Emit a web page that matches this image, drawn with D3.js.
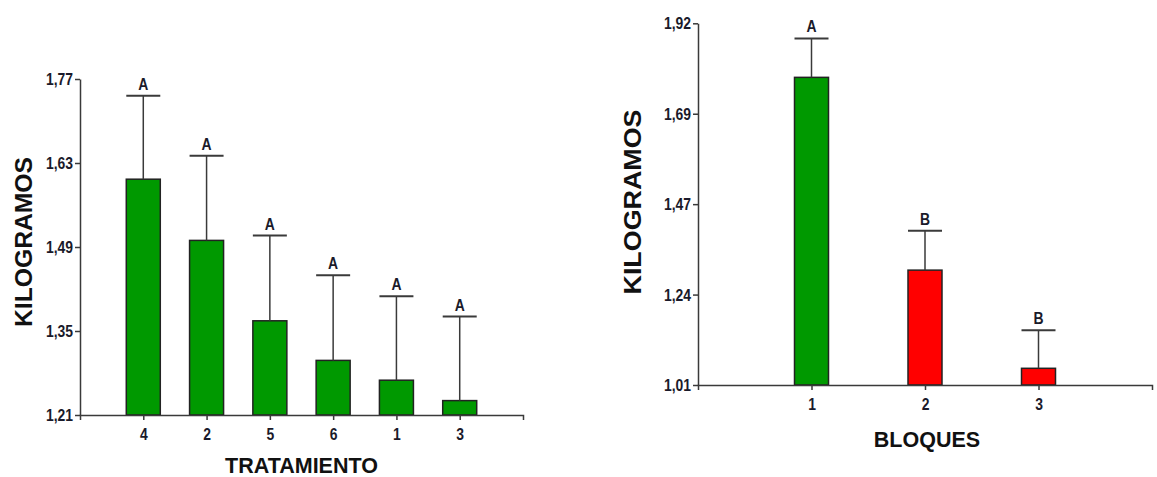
<!DOCTYPE html>
<html>
<head>
<meta charset="utf-8">
<script src="https://cdn.jsdelivr.net/npm/d3@7"></script>
<style>
  html, body { margin: 0; padding: 0; background: #fff; }
  svg { display: block; }
  .tick text { font-family: "Liberation Sans", Arial, sans-serif; font-weight: bold; }
</style>
</head>
<body>
<svg id="chart" width="1157" height="477"></svg>
<script>
// ---- Data ----
const treatCategories = ["4", "2", "5", "6", "1", "3"];
const treatMeans = [1.603, 1.501, 1.367, 1.301, 1.268, 1.234];
const treatErrTop = [1.742, 1.642, 1.509, 1.443, 1.408, 1.374];
const treatLetters = ["A", "A", "A", "A", "A", "A"];
const treatTickValues = [1.21, 1.35, 1.49, 1.63, 1.77];
const treatTickLabels = ["1,21", "1,35", "1,49", "1,63", "1,77"];

const blockCategories = ["1", "2", "3"];
const blockMeans = [1.784, 1.299, 1.052];
const blockErrTop = [1.882, 1.398, 1.148];
const blockLetters = ["A", "B", "B"];
const blockTickValues = [1.01, 1.2375, 1.465, 1.6925, 1.92];
const blockTickLabels = ["1,01", "1,24", "1,47", "1,69", "1,92"];

const GREEN = "#009900", RED = "#ff0000", INK = "#3a3a3a";
const FONT = '"Liberation Sans", Arial, sans-serif';
const SX = 0.82; // horizontal condensing of small labels

const svg = d3.select("#chart");

function panel(cfg) {
  const g = svg.append("g");
  const x = d3.scalePoint().domain(cfg.cats).range(cfg.xr).padding(1);
  const y = d3.scaleLinear().domain([cfg.ticks[0], cfg.ticks[cfg.ticks.length - 1]]).range(cfg.yr);
  const bw = 34;

  const data = cfg.cats.map((c, i) => ({ c, v: cfg.means[i], e: cfg.err[i], l: cfg.letters[i], col: cfg.colors[i] }));

  // bars
  g.selectAll("rect.bar").data(data).join("rect")
    .attr("x", d => x(d.c) - bw / 2)
    .attr("width", bw)
    .attr("y", d => y(d.v))
    .attr("height", d => y(cfg.ticks[0]) - y(d.v))
    .attr("fill", d => d.col)
    .attr("stroke", "#222")
    .attr("stroke-width", 1.5);

  // error bars
  g.selectAll("line.err").data(data).join("line")
    .attr("x1", d => x(d.c)).attr("x2", d => x(d.c))
    .attr("y1", d => y(d.v)).attr("y2", d => y(d.e))
    .attr("stroke", INK).attr("stroke-width", 1.5);
  g.selectAll("line.cap").data(data).join("line")
    .attr("x1", d => x(d.c) - bw / 2).attr("x2", d => x(d.c) + bw / 2)
    .attr("y1", d => y(d.e)).attr("y2", d => y(d.e))
    .attr("stroke", INK).attr("stroke-width", 2);
  g.selectAll("text.letter").data(data).join("text")
    .attr("transform", d => `translate(${x(d.c)},${y(d.e) - 6}) scale(${SX},1)`)
    .attr("text-anchor", "middle")
    .attr("font-family", FONT).attr("font-weight", "bold").attr("font-size", 17)
    .attr("fill", "#1a1a2a")
    .text(d => d.l);

  // axes
  const yAxis = d3.axisLeft(y).tickValues(cfg.ticks).tickFormat((d, i) => cfg.tickLabels[i]).tickSize(5).tickSizeOuter(0).tickPadding(2);
  const ga = g.append("g").attr("transform", `translate(${cfg.xr[0]},0)`).call(yAxis);
  const gx = g.append("g").attr("transform", `translate(0,${cfg.yr[0]})`).call(d3.axisBottom(x).tickSize(5).tickSizeOuter(5).tickPadding(8));
  [ga, gx].forEach(a => {
    a.selectAll("path, line").attr("stroke", INK).attr("stroke-width", 1.5);
    a.selectAll("text").attr("font-size", 17).attr("fill", "#1a1a2a");
  });
  ga.selectAll(".tick text").attr("x", -7 / SX).attr("transform", `scale(${SX},1)`);
  gx.selectAll(".tick text").attr("transform", `scale(${SX},1)`);

  // axis titles
  g.append("text")
    .attr("transform", `translate(${cfg.ylab[0]},${cfg.ylab[1]}) rotate(-90)`)
    .attr("text-anchor", "middle")
    .attr("font-family", FONT).attr("font-weight", "bold").attr("font-size", 24)
    .attr("textLength", cfg.ylabLen).attr("lengthAdjust", "spacingAndGlyphs")
    .attr("fill", "#111")
    .text("KILOGRAMOS");
  g.append("text")
    .attr("x", (cfg.xr[0] + cfg.xr[1]) / 2 + cfg.xlabDx)
    .attr("y", cfg.xlabY)
    .attr("text-anchor", "middle")
    .attr("font-family", FONT).attr("font-weight", "bold").attr("font-size", 21.5)
    .attr("fill", "#111")
    .text(cfg.xlab);
}

panel({
  cats: treatCategories, means: treatMeans, err: treatErrTop, letters: treatLetters,
  colors: treatCategories.map(() => GREEN),
  ticks: treatTickValues, tickLabels: treatTickLabels,
  xr: [80, 523], yr: [415, 79],
  ylab: [32, 242], ylabLen: 170, xlab: "TRATAMIENTO", xlabY: 473, xlabDx: 0
});

panel({
  cats: blockCategories, means: blockMeans, err: blockErrTop, letters: blockLetters,
  colors: [GREEN, RED, RED],
  ticks: blockTickValues, tickLabels: blockTickLabels,
  xr: [698, 1152], yr: [385, 23.3],
  ylab: [641, 202], ylabLen: 185, xlab: "BLOQUES", xlabY: 447, xlabDx: 2
});
</script>
</body>
</html>
